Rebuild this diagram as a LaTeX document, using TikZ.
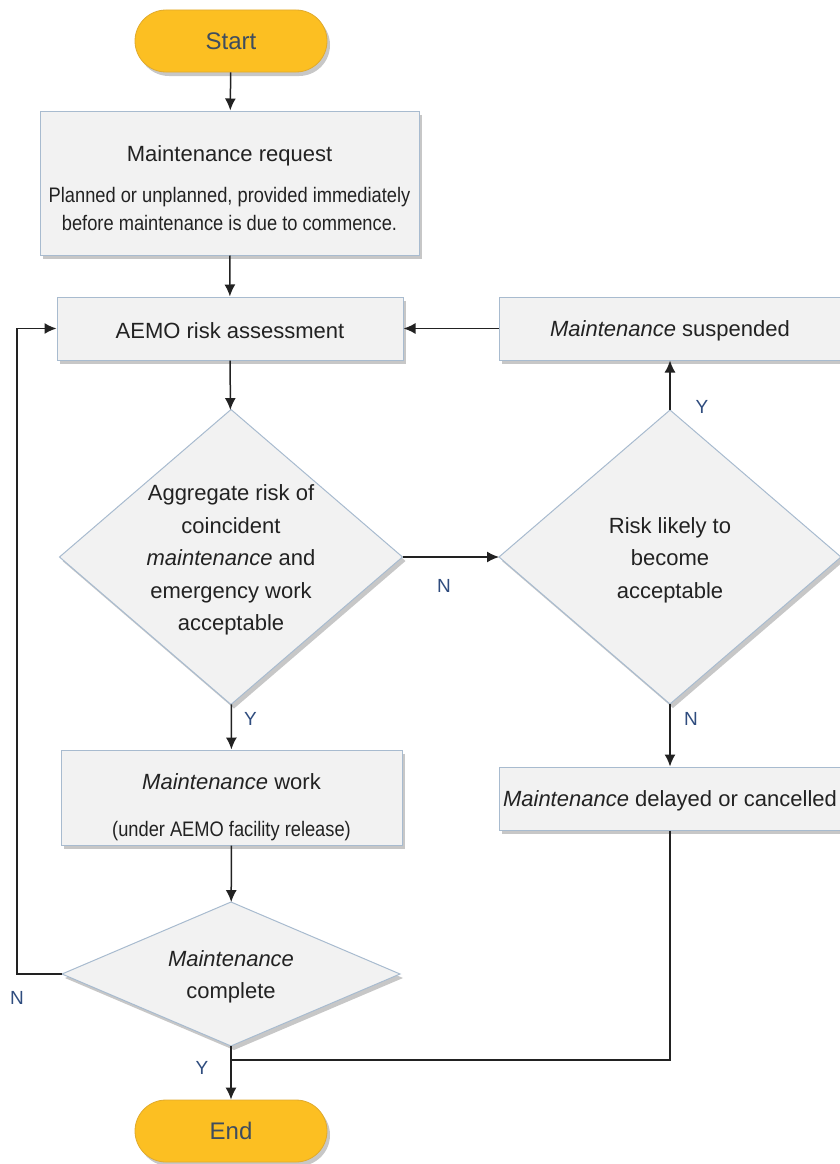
\documentclass[tikz,border=0pt]{standalone}
\usepackage{fontspec}
\setmainfont{Liberation Sans}
\newfontfamily\etroite[FakeStretch=0.87]{Liberation Sans}
\usetikzlibrary{shapes.geometric,shadows,arrows.meta}

\definecolor{jaune}{HTML}{FCBF22}
\definecolor{jauneBord}{HTML}{E0AA2C}
\definecolor{gris}{HTML}{F2F2F2}
\definecolor{grisBord}{HTML}{A8BBCF}
\definecolor{bleuTexte}{HTML}{2F4C7E}
\definecolor{ardoise}{HTML}{3E4C5E}
\definecolor{noir}{HTML}{222222}

\newcommand{\petit}[1]{{\etroite\fontsize{21}{28}\selectfont #1}}

\begin{document}
\begin{tikzpicture}[x=1pt,y=-1pt,
  ombre/.style={drop shadow={shadow xshift=3pt,shadow yshift=-4pt,opacity=.22,fill=black}},
  terminal/.style={rectangle,rounded corners=31pt,minimum width=192pt,minimum height=62pt,
    fill=jaune,draw=jauneBord,line width=.8pt,text=ardoise,font=\fontsize{24}{27}\selectfont,ombre},
  boite/.style={rectangle,fill=gris,draw=grisBord,line width=1pt,text=noir,
    font=\fontsize{22}{28}\selectfont,align=center,ombre},
  decision/.style={diamond,fill=gris,draw=grisBord,line width=1pt,inner sep=0pt,outer sep=0pt,ombre},
  texte/.style={align=center,font=\fontsize{22}{32.5}\selectfont,text=noir,yshift=-3pt},
  fleche/.style={-{Latex[length=12pt,width=11pt]},line width=1.5pt,draw=noir},
  ligne/.style={line width=1.5pt,draw=noir},
  etiquette/.style={font=\fontsize{19}{19}\selectfont,text=bleuTexte,inner sep=0pt}]

% Cadre
  \useasboundingbox (0,0) rectangle (840,1164);

% Colonne de gauche
  \node[terminal] (debut) at (231,41) {Start};
  \node[boite,minimum width=379pt,minimum height=144pt] (demande) at (229.5,183)
    {\rule{0pt}{27pt}Maintenance request\\[13pt]\petit{Planned or unplanned, provided immediately}\\\petit{before maintenance is due to commence.}};
  \node[boite,minimum width=346pt,minimum height=63pt,text height=20pt] (evaluation) at (230,328.5) {AEMO risk assessment};
  \node[decision,minimum width=343pt,minimum height=295pt] (agregat) at (231,557) {};
  \node[texte] (agregatTxt) at (agregat) {Aggregate risk of\\coincident\\\textit{maintenance} and\\emergency work\\acceptable};
  \node[boite,minimum width=341pt,minimum height=95pt] (travaux) at (231.5,797.5)
    {\rule{0pt}{36pt}\textit{Maintenance} work\\[19pt]\petit{(under AEMO facility release)}};
  \node[decision,minimum width=338pt,minimum height=144pt] (termine) at (231,974) {};
  \node[texte] (termineTxt) at (termine) {\textit{Maintenance}\\complete};
  \node[terminal] (fin) at (231,1131) {End};

% Colonne de droite
  \node[boite,minimum width=342pt,minimum height=63pt,text height=20pt] (suspendu) at (670,328.5) {\textit{Maintenance} suspended};
  \node[decision,minimum width=342pt,minimum height=294pt] (probable) at (670,557) {};
  \node[texte] (probableTxt) at (probable) {Risk likely to\\become\\acceptable};
  \node[boite,minimum width=342pt,minimum height=63pt,text height=20pt] (retarde) at (670,798.5) {\textit{Maintenance} delayed or cancelled};

% Fleches
  \draw[fleche] (debut) -- (demande);
  \draw[fleche] (demande) -- (evaluation);
  \draw[fleche] (evaluation) -- (agregat);
  \draw[fleche] (agregat) -- node[etiquette,pos=.43,yshift=-29pt] {N} (probable);
  \draw[fleche] (probable) -- node[etiquette,pos=.06,xshift=32pt] {Y} (suspendu);
  \draw[fleche] (suspendu) -- (evaluation);
  \draw[fleche] (probable) -- node[etiquette,pos=.24,xshift=21pt] {N} (retarde);
  \draw[fleche] (agregat) -- node[etiquette,pos=.33,xshift=19pt] {Y} (travaux);
  \draw[fleche] (travaux) -- (termine);
  \draw[fleche] (termine) -- node[etiquette,pos=.41,xshift=-29pt] {Y} (fin);

% Retours
  \coordinate (retour) at (17,974);
  \coordinate (jonction) at (231,1060);
  \draw[fleche] (termine.west) -- (retour) node[etiquette,yshift=-24pt] {N} |- (evaluation.west);
  \draw[ligne] (retarde.south) |- (jonction);

\end{tikzpicture}
\end{document}
